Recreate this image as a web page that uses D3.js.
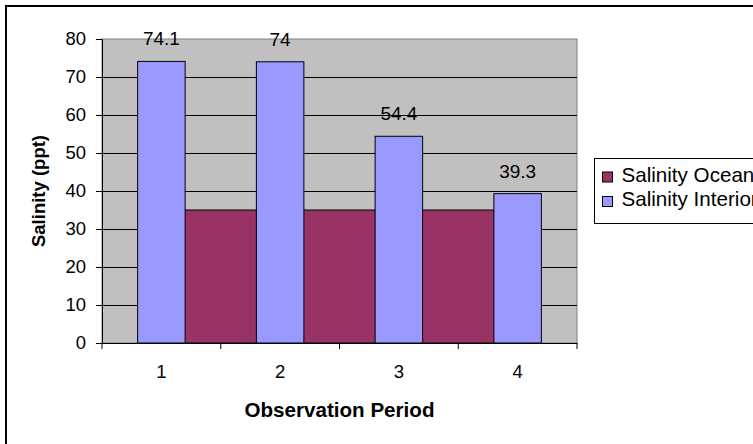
<!DOCTYPE html>
<html>
<head>
<meta charset="utf-8">
<script src="https://cdn.jsdelivr.net/npm/d3@7"></script>
<style>
    body { margin: 0; background: #fff; }
    svg { display: block; font-family: "Liberation Sans", Arial, sans-serif; }
</style>
</head>
<body>
<svg id="chart" width="753" height="444"></svg>
<script>
const periods = ["1", "2", "3", "4"];
const salinityOcean = [35, 35, 35, 35];
const salinityInterior = [74.1, 74, 54.4, 39.3];
const yTicks = [0, 10, 20, 30, 40, 50, 60, 70, 80];
const seriesNames = ["Salinity Ocean", "Salinity Interior"];
const seriesColors = ["#993366", "#9999ff"];

const svg = d3.select("#chart");
const plot = {left: 102, right: 577, top: 39, bottom: 343};

// outer chart border (runs off the right and bottom of the picture)
svg.append("rect")
    .attr("x", 6).attr("y", 6)
    .attr("width", 900).attr("height", 600)
    .attr("fill", "#fff")
    .attr("stroke", "#000")
    .attr("stroke-width", 2);

// Scales
const x = d3.scaleBand()
    .domain(periods)
    .range([plot.left, plot.right])
    .paddingInner(0.6)
    .paddingOuter(0.3);

const y = d3.scaleLinear()
    .domain([0, 80])
    .range([plot.bottom, plot.top]);

// plot area
svg.append("rect")
    .attr("x", plot.left).attr("y", plot.top)
    .attr("width", plot.right - plot.left)
    .attr("height", plot.bottom - plot.top)
    .attr("fill", "#c0c0c0")
    .attr("stroke", "#808080")
    .attr("stroke-width", 1);

// gridlines
svg.append("g")
    .selectAll("line")
    .data(yTicks.filter(d => d > 0 && d < 80))
    .enter()
    .append("line")
    .attr("x1", plot.left).attr("x2", plot.right)
    .attr("y1", d => Math.round(y(d)) + 0.5)
    .attr("y2", d => Math.round(y(d)) + 0.5)
    .attr("stroke", "#000")
    .attr("stroke-width", 1);

// Salinity Ocean as a flat area from first to last period
const center = d => x(d) + x.bandwidth() / 2;
const oceanData = periods.map((p, i) => ({p: p, v: salinityOcean[i]}));

const area = d3.area()
    .x(d => center(d.p))
    .y0(y(0))
    .y1(d => y(d.v));

svg.append("path")
    .datum(oceanData)
    .attr("fill", seriesColors[0])
    .attr("stroke", "#000")
    .attr("stroke-width", 1)
    .attr("d", area);

// Salinity Interior columns
const interiorData = periods.map((p, i) => ({p: p, v: salinityInterior[i]}));

svg.selectAll("rect.interior")
    .data(interiorData)
    .enter()
    .append("rect")
    .attr("class", "interior")
    .attr("x", d => x(d.p))
    .attr("y", d => y(d.v))
    .attr("width", x.bandwidth())
    .attr("height", d => y(0) - y(d.v))
    .attr("fill", seriesColors[1])
    .attr("stroke", "#000")
    .attr("stroke-width", 1);

svg.selectAll("text.value")
    .data(interiorData)
    .enter()
    .append("text")
    .attr("class", "value")
    .attr("x", d => center(d.p))
    .attr("y", d => y(d.v) - 16)
    .attr("text-anchor", "middle")
    .style("font-size", "19px")
    .text(d => d.v);

// Axes
const yAxis = svg.append("g")
    .attr("transform", `translate(${plot.left},0)`)
    .call(d3.axisLeft(y).tickValues(yTicks).tickSize(6).tickPadding(10));

const xAxis = svg.append("g")
    .attr("transform", `translate(0,${plot.bottom})`)
    .call(d3.axisBottom(x).tickSize(0).tickPadding(22));

[yAxis, xAxis].forEach(g => {
    g.selectAll("path.domain").attr("stroke", "#000").attr("stroke-width", 1);
    g.selectAll("line").attr("stroke", "#000");
    g.selectAll("text")
        .attr("fill", "#000")
        .style("font-size", "18.5px")
        .style("font-family", "\"Liberation Sans\", Arial, sans-serif");
});

// category boundary ticks
svg.append("g")
    .selectAll("line")
    .data(d3.range(periods.length + 1))
    .enter()
    .append("line")
    .attr("x1", i => plot.left + i * x.step())
    .attr("x2", i => plot.left + i * x.step())
    .attr("y1", plot.bottom)
    .attr("y2", plot.bottom + 6)
    .attr("stroke", "#000");

// Axis titles
svg.append("text")
    .attr("x", (plot.left + plot.right) / 2)
    .attr("y", 417)
    .attr("text-anchor", "middle")
    .style("font-size", "20.6px")
    .style("font-weight", "bold")
    .text("Observation Period");

svg.append("text")
    .attr("transform", `translate(45,${(plot.top + plot.bottom) / 2}) rotate(-90)`)
    .attr("text-anchor", "middle")
    .style("font-size", "18.5px")
    .style("font-weight", "bold")
    .text("Salinity (ppt)");

// Legend
const legend = svg.append("g")
    .attr("transform", "translate(594.5,158.5)");

legend.append("rect")
    .attr("width", 300)
    .attr("height", 65)
    .attr("fill", "#fff")
    .attr("stroke", "#000")
    .attr("stroke-width", 1);

seriesNames.forEach((name, i) => {
    legend.append("rect")
        .attr("x", 8)
        .attr("y", 13.5 + i * 24.5)
        .attr("width", 10)
        .attr("height", 10)
        .attr("fill", seriesColors[i])
        .attr("stroke", "#000")
        .attr("stroke-width", 1);

    legend.append("text")
        .attr("x", 27)
        .attr("y", 23 + i * 24.5)
        .style("font-size", "20.6px")
        .text(name);
});
</script>
</body>
</html>
